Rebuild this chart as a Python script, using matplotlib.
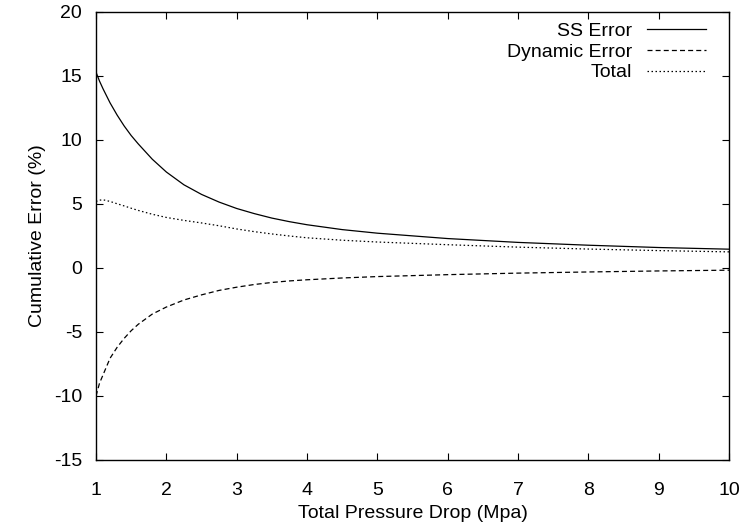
import numpy as np
import matplotlib
matplotlib.use("Agg")
import matplotlib.pyplot as plt

plt.rcParams['font.family'] = ['Liberation Sans', 'DejaVu Sans']
plt.rcParams['axes.unicode_minus'] = False

# valores
pressao = [1.0, 1.05, 1.1, 1.2, 1.3, 1.4, 1.5, 1.6, 1.8, 2.0, 2.25, 2.5, 2.75,
           3.0, 3.25, 3.5, 3.75, 4.0, 4.5, 5.0, 6.0, 7.0, 8.0, 9.0, 10.0]
erro_ss = [15.3, 14.6, 14.0, 12.9, 11.95, 11.1, 10.35, 9.7, 8.5, 7.5, 6.5, 5.75, 5.15,
           4.65, 4.25, 3.9, 3.62, 3.38, 3.0, 2.72, 2.3, 2.0, 1.78, 1.6, 1.47]
erro_din = [-10.0, -9.0, -8.35, -7.05, -6.2, -5.5, -4.9, -4.4, -3.6, -3.05, -2.5, -2.1, -1.75,
            -1.5, -1.29, -1.13, -1.01, -0.92, -0.78, -0.67, -0.52, -0.4, -0.31, -0.23, -0.17]
erro_total = [5.2, 5.3, 5.33, 5.2, 5.02, 4.85, 4.67, 4.5, 4.2, 3.95, 3.72, 3.52, 3.3,
              3.05, 2.84, 2.66, 2.5, 2.36, 2.17, 2.03, 1.82, 1.63, 1.48, 1.36, 1.26]

fig = plt.figure(figsize=(7.49, 5.29), dpi=100)
ax = fig.add_axes([96/749, 69/529, 633/749, 448/529])

ax.plot(pressao, erro_ss, color='black', lw=0.9, ls='-', label='SS Error')
ax.plot(pressao, erro_din, color='black', lw=0.9, ls=(0, (4, 2.5)), label='Dynamic Error')
ax.plot(pressao, erro_total, color='black', lw=0.9, ls=(0, (1.2, 2)), label='Total')

ax.set_xlim(1, 10)
ax.set_ylim(-15, 20)
ax.set_xticks(np.arange(1, 11, 1))
ax.set_yticks(np.arange(-15, 21, 5))

ax.tick_params(direction='in', length=5, width=0.8, top=True, right=True, labelsize=14)
ax.tick_params(axis='x', pad=16)
ax.tick_params(axis='y', pad=10)
for s in ax.spines.values():
    s.set_linewidth(1.0)

ax.set_xlabel('Total Pressure Drop (Mpa)', fontsize=14, labelpad=4)
ax.set_ylabel('Cumulative Error (%)', fontsize=14, labelpad=6)

ax.legend(loc='upper right', frameon=False, markerfirst=False, fontsize=14,
          handlelength=3.0, handletextpad=0.8, labelspacing=0.15,
          borderaxespad=0.2, borderpad=0.35, bbox_to_anchor=(0.98, 1.0))

fig.savefig('out.png', dpi=100)
